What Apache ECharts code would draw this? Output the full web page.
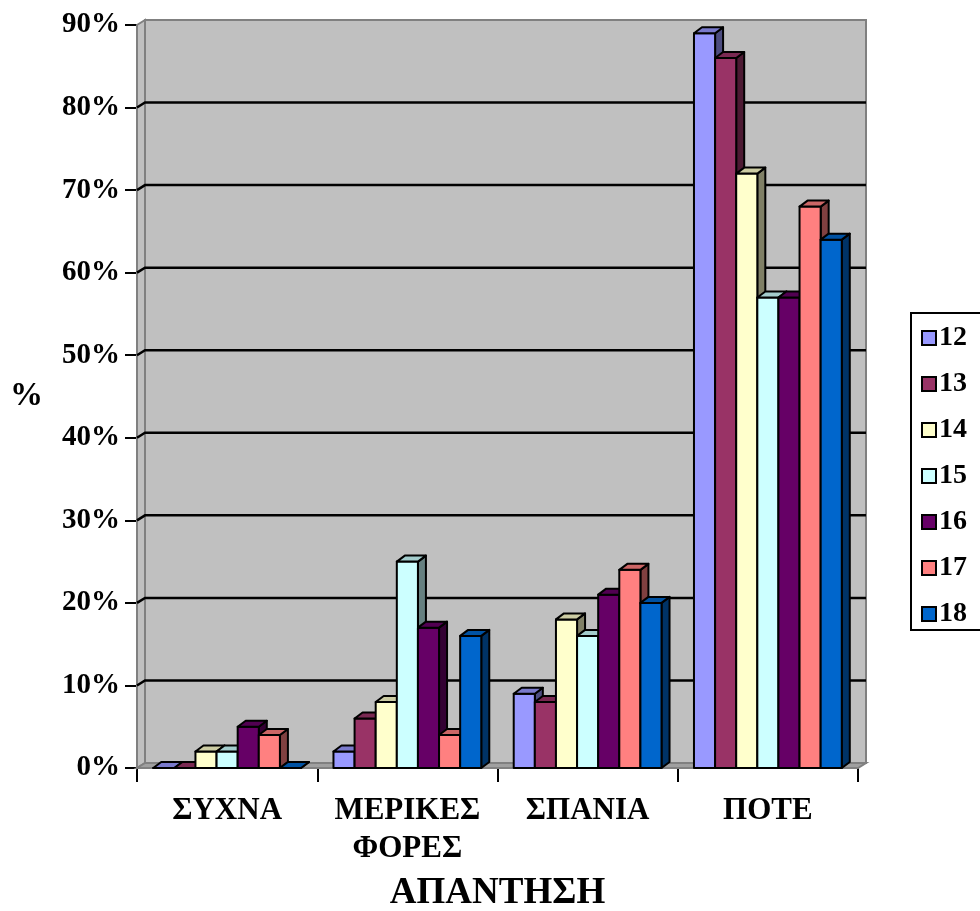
<!DOCTYPE html>
<html>
<head>
<meta charset="utf-8">
<script src="https://cdn.jsdelivr.net/npm/echarts@6/dist/echarts.min.js"></script>
<style>
  html, body { margin: 0; padding: 0; background: #fff; }
  #chart { width: 980px; height: 911px; }
</style>
</head>
<body>
<div id="chart"></div>
<script>
// Answer categories (x axis) and age groups (series)
const categories = ['ΣΥΧΝΑ', 'ΜΕΡΙΚΕΣ\nΦΟΡΕΣ', 'ΣΠΑΝΙΑ', 'ΠΟΤΕ'];
const ages = ['12', '13', '14', '15', '16', '17', '18'];

// Percent of each age group giving each answer
const age12 = [0, 2, 9, 89];
const age13 = [0, 6, 8, 86];
const age14 = [2, 8, 18, 72];
const age15 = [2, 25, 16, 57];
const age16 = [5, 17, 21, 57];
const age17 = [4, 4, 24, 68];
const age18 = [0, 16, 20, 64];
const ageValues = [age12, age13, age14, age15, age16, age17, age18];

// Value axis ticks
const yTicks = [0, 10, 20, 30, 40, 50, 60, 70, 80, 90];

const colors = ['#9999FF', '#993366', '#FFFFCC', '#CCFFFF', '#660066', '#FF8080', '#0066CC'];

const FONT = '"Liberation Serif", "Times New Roman", serif';
const WALL_DX = 8, WALL_DY = -5;   // depth of walls / floor
const BAR_DX = 8, BAR_DY = -6;     // depth of each column
const GROUP_RATIO = 0.82;          // share of a category band used by the columns

function shade(hex, f) {
  const n = parseInt(hex.slice(1), 16);
  const r = Math.round(((n >> 16) & 255) * f);
  const g = Math.round(((n >> 8) & 255) * f);
  const b = Math.round((n & 255) * f);
  return 'rgb(' + r + ',' + g + ',' + b + ')';
}

// Back wall, side wall, floor and gridlines
function renderWalls(params, api) {
  const cs = params.coordSys;
  const x = cs.x, y = cs.y, w = cs.width, h = cs.height;
  const children = [];
  children.push({
    type: 'rect',
    shape: { x: x + WALL_DX, y: y + WALL_DY, width: w, height: h },
    style: { fill: '#C0C0C0', stroke: '#808080', lineWidth: 2 }
  });
  children.push({
    type: 'polygon',
    shape: { points: [[x, y + h], [x + WALL_DX, y + h + WALL_DY], [x + WALL_DX, y + WALL_DY], [x, y]] },
    style: { fill: '#C0C0C0', stroke: '#808080', lineWidth: 2 }
  });
  children.push({
    type: 'polygon',
    shape: { points: [[x, y + h], [x + w, y + h], [x + w + WALL_DX, y + h + WALL_DY], [x + WALL_DX, y + h + WALL_DY]] },
    style: { fill: '#A0A0A0', stroke: '#808080', lineWidth: 2 }
  });
  yTicks.forEach(function (v) {
    if (v === yTicks[0] || v === yTicks[yTicks.length - 1]) return;
    const ty = api.coord([0, v])[1];
    children.push({
      type: 'polyline',
      shape: { points: [[x, ty], [x + WALL_DX, ty + WALL_DY], [x + w + WALL_DX, ty + WALL_DY]] },
      style: { stroke: '#000', lineWidth: 2.5, fill: null }
    });
  });
  return { type: 'group', children: children };
}

// One 3D column: front face, top face and right side face
function makeBarRenderer(k) {
  const base = colors[k];
  return function (params, api) {
    const cat = api.value(0);
    const val = api.value(1);
    const p0 = api.coord([cat, 0]);
    const p1 = api.coord([cat, val]);
    const band = api.size([1, 0])[0];
    const groupW = band * GROUP_RATIO;
    const bw = groupW / ages.length;
    const x0 = p0[0] - groupW / 2 + k * bw;
    const yb = p0[1], yt = p1[1];
    const stroke = { stroke: '#000', lineWidth: 2, lineJoin: 'round' };
    return {
      type: 'group',
      children: [
        {
          type: 'polygon',
          shape: { points: [[x0 + bw, yt], [x0 + bw + BAR_DX, yt + BAR_DY], [x0 + bw + BAR_DX, yb + BAR_DY], [x0 + bw, yb]] },
          style: Object.assign({ fill: shade(base, 0.5) }, stroke)
        },
        {
          type: 'rect',
          shape: { x: x0, y: yt, width: bw, height: yb - yt },
          style: Object.assign({ fill: base }, stroke)
        },
        {
          type: 'polygon',
          shape: { points: [[x0, yt], [x0 + BAR_DX, yt + BAR_DY], [x0 + bw + BAR_DX, yt + BAR_DY], [x0 + bw, yt]] },
          style: Object.assign({ fill: shade(base, 0.8) }, stroke)
        }
      ]
    };
  };
}

const series = [{
  type: 'custom',
  name: 'walls',
  silent: true,
  z: 1,
  renderItem: renderWalls,
  data: [[0, 0]]
}];
ages.forEach(function (a, k) {
  series.push({
    type: 'custom',
    name: a,
    z: 2,
    itemStyle: { color: colors[k] },
    renderItem: makeBarRenderer(k),
    data: ageValues[k].map(function (v, i) { return [i, v]; })
  });
});

const chart = echarts.init(document.getElementById('chart'));
chart.setOption({
  backgroundColor: '#ffffff',
  animation: false,
  grid: { left: 137, right: 122, top: 25, bottom: 143, outerBoundsMode: 'none', containLabel: false },
  legend: {
    data: ages,
    orient: 'vertical',
    left: 911,
    top: 313,
    icon: 'rect',
    itemWidth: 14,
    itemHeight: 14,
    itemGap: 18,
    padding: [11, 60, 2, 10],
    borderColor: '#000',
    borderWidth: 2,
    itemStyle: { borderColor: '#000', borderWidth: 2 },
    textStyle: { fontFamily: FONT, fontWeight: 'bold', fontSize: 28, color: '#000', padding: [0, 0, 0, -2] }
  },
  xAxis: {
    type: 'category',
    data: categories,
    name: 'ΑΠΑΝΤΗΣΗ',
    nameLocation: 'middle',
    nameGap: 107,
    nameTextStyle: { fontFamily: FONT, fontWeight: 'bold', fontSize: 37, color: '#000' },
    axisLine: { lineStyle: { color: '#000', width: 2 } },
    axisTick: { show: true, length: 14, lineStyle: { color: '#000', width: 2 } },
    axisLabel: {
      interval: 0, margin: 24,
      fontFamily: FONT, fontWeight: 'bold', fontSize: 31, color: '#000', lineHeight: 38
    },
    splitLine: { show: false }
  },
  yAxis: {
    type: 'value',
    min: 0, max: 90, interval: 10,
    name: '%',
    nameLocation: 'middle',
    nameRotate: 0,
    nameGap: 94,
    nameTextStyle: { fontFamily: FONT, fontWeight: 'bold', fontSize: 33, color: '#000' },
    axisLine: { show: true, lineStyle: { color: '#000', width: 2 } },
    axisTick: { show: true, length: 12, lineStyle: { color: '#000', width: 2 } },
    axisLabel: {
      margin: 17,
      formatter: '{value}%',
      fontFamily: FONT, fontWeight: 'bold', fontSize: 29, color: '#000'
    },
    splitLine: { show: false }
  },
  series: series
});
</script>
</body>
</html>
